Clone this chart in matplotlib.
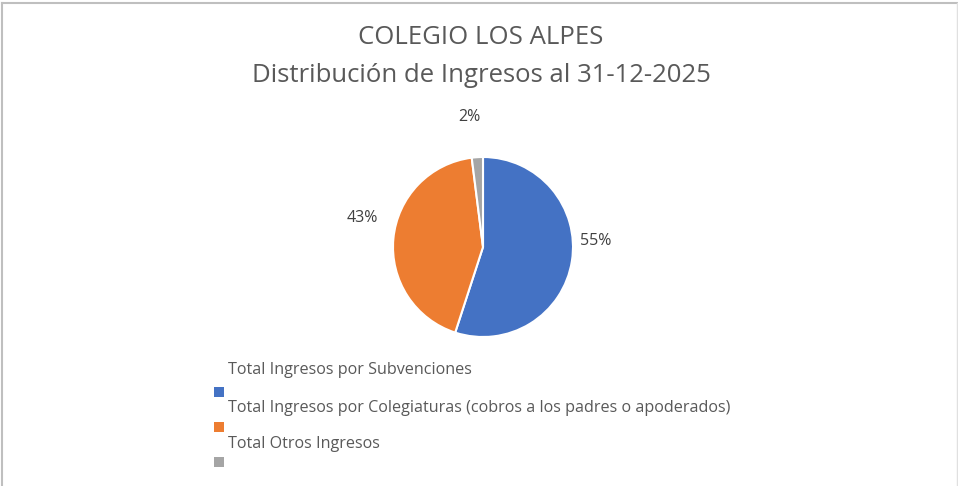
import matplotlib.pyplot as plt
from matplotlib.lines import Line2D
from matplotlib.patches import Rectangle

# datos
categorias = ['Total Ingresos por Subvenciones',
              'Total Ingresos por Colegiaturas (cobros a los padres o apoderados)',
              'Total Otros Ingresos']
valores = [55, 43, 2]
colores = ['#4472C4', '#ED7D31', '#A5A5A5']
titulo = ['COLEGIO LOS ALPES', 'Distribución de Ingresos al 31-12-2025']

plt.rcParams['font.family'] = ['Open Sans', 'DejaVu Sans']

W, H = 958, 486
fig = plt.figure(figsize=(W / 100, H / 100), dpi=100)

# area del grafico de torta (centro ~ (483,247), radio ~ 90 px)
cx, cy, r = 483, 247, 90
ax = fig.add_axes([(cx - r) / W, 1 - (cy + r) / H, 2 * r / W, 2 * r / H])
wedges, _ = ax.pie(valores, colors=colores, startangle=90, counterclock=False,
                   wedgeprops=dict(edgecolor='white', linewidth=1.5))
ax.set_aspect('equal')
ax.set_xlim(-1, 1)
ax.set_ylim(-1, 1)

# etiquetas de porcentaje
pos_etiquetas = [(596, 241), (362, 218), (469, 117)]
for v, (x, y) in zip(valores, pos_etiquetas):
    fig.text(x / W, 1 - y / H, f'{v}%', ha='center', va='center',
             fontsize=11.5, color='#404040')

# titulo
fig.text(481 / W, 1 - 38 / H, titulo[0], ha='center', va='center',
         fontsize=18.5, color='#595959')
fig.text(481 / W, 1 - 75 / H, titulo[1], ha='center', va='center',
         fontsize=18.5, color='#595959')

# leyenda (texto arriba, marcador abajo)
filas_y = [370, 408, 444]
marcas_y = [392, 427, 462]
for cat, col, y, my in zip(categorias, colores, filas_y, marcas_y):
    fig.text(228 / W, 1 - y / H, cat, ha='left', va='center',
             fontsize=11.6, color='#595959')
    fig.patches.append(Rectangle((214 / W, 1 - (my + 5) / H), 10 / W, 10 / H,
                                 transform=fig.transFigure, facecolor=col,
                                 edgecolor='none'))

# borde del grafico
borde = dict(color='#BFBFBF', linewidth=1.5, transform=fig.transFigure)
fig.lines.append(Line2D([1.5 / W, 1.5 / W], [0, 1 - 3.5 / H], **borde))
fig.lines.append(Line2D([1.5 / W, 1], [1 - 3.5 / H, 1 - 3.5 / H], **borde))
fig.lines.append(Line2D([956.5 / W, 956.5 / W], [0, 1 - 3.5 / H],
                        color='#E0E0E0', linewidth=1, transform=fig.transFigure))

fig.savefig('out.png', dpi=100, facecolor='white')
